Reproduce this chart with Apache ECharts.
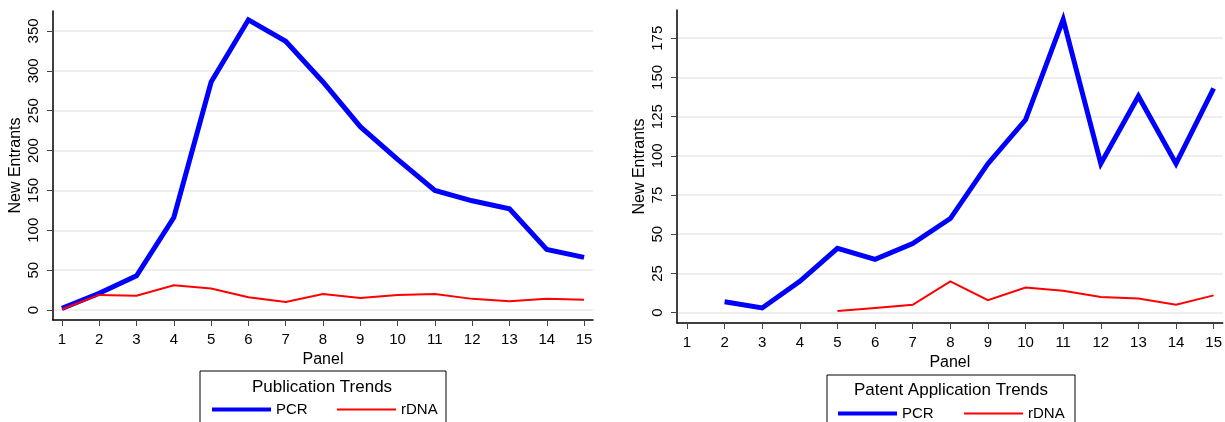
<!DOCTYPE html>
<html><head><meta charset="utf-8">
<script src="https://cdn.jsdelivr.net/npm/echarts@6/dist/echarts.min.js"></script>
<style>html,body{margin:0;padding:0;background:#fff}#c{width:1225px;height:422px}</style>
</head><body><div id="c"></div>
<script>
const panels = [1,2,3,4,5,6,7,8,9,10,11,12,13,14,15];
const pubPCR  = [2,21,43,116,286,364,337,286,230,189,150,137,127,76,66];
const pubRDNA = [1,19,18,31,27,16,10,20,15,19,20,14,11,14,13];
const patPCR  = [null,7,3,20,41,34,44,60,95,123,187,95,138,95,143];
const patRDNA = [null,null,null,null,1,3,5,20,8,16,14,10,9,5,11];
const pubTicks = [0,50,100,150,200,250,300,350];
const patTicks = [0,25,50,75,100,125,150,175];
const seriesNames = ['PCR','rDNA'];
const legendTitles = ['Publication Trends','Patent Application Trends'];

const FONT = '"Liberation Sans", Arial, sans-serif';
const pairs = (vals) => panels.map((p,i)=>[p, vals[i]]).filter(d => d[1] !== null);

function xAxis(gridIndex, min, max) {
  return {
    type: 'value', gridIndex, min, max,
    name: 'Panel', nameLocation: 'middle', nameGap: 20,
    nameTextStyle: {fontFamily: FONT, fontSize: 16, color: '#000'},
    axisLine: {show: true, onZero: false, lineStyle: {color: '#000', width: 1.5}},
    axisTick: {show: true, customValues: panels, length: 6, lineStyle: {color: '#444', width: 1}},
    axisLabel: {customValues: panels, margin: 12, fontFamily: FONT, fontSize: 15, color: '#000'},
    splitLine: {show: false}
  };
}
function yAxis(gridIndex, min, max, ticks) {
  return {
    type: 'value', gridIndex, min, max,
    name: 'New Entrants', nameLocation: 'middle', nameGap: 29,
    nameTextStyle: {fontFamily: FONT, fontSize: 16, color: '#000'},
    axisLine: {show: true, onZero: false, lineStyle: {color: '#000', width: 1.5}},
    axisTick: {show: true, customValues: ticks, length: 6, lineStyle: {color: '#444', width: 1}},
    axisLabel: {customValues: ticks, rotate: 90, margin: 12, fontFamily: FONT, fontSize: 15, color: '#000'},
    splitLine: {show: true, lineStyle: {color: '#e8e8e8', width: 1.5}}
  };
}
function line(name, xi, data, width, color) {
  return {
    name, type: 'line', xAxisIndex: xi, yAxisIndex: xi, data,
    symbol: 'none', animation: false,
    lineStyle: {width, color, join: 'miter', cap: 'butt'},
    itemStyle: {color}
  };
}
function legendItem(name, left, centerY, thick) {
  return {
    left, top: centerY - 11, itemWidth: 59, itemHeight: thick, icon: 'rect',
    data: [name], selectedMode: false,
    textStyle: {fontFamily: FONT, fontSize: 15, color: '#000'}
  };
}

const chart = echarts.init(document.getElementById('c'), null, {renderer: 'canvas'});
chart.setOption({
  animation: false,
  backgroundColor: '#fff',
  grid: [
    {left: 53, top: 11, right: 632, bottom: 102, containLabel: false},
    {left: 677, top: 10, right: 1, bottom: 99, containLabel: false}
  ],
  xAxis: [xAxis(0, 0.76, 15.24), xAxis(1, 0.735, 15.24)],
  yAxis: [yAxis(0, -12.5, 375, pubTicks), yAxis(1, -6.6, 193, patTicks)],
  legend: [
    legendItem(seriesNames[0], 207, 408, 4),
    legendItem(seriesNames[1], 332, 408, 2),
    legendItem(seriesNames[0], 833, 412, 4),
    legendItem(seriesNames[1], 959, 412, 2)
  ],
  graphic: [
    {type: 'rect', shape: {x: 200, y: 371, width: 246, height: 60}, style: {fill: 'none', stroke: '#000', lineWidth: 1}, z: 0},
    {type: 'text', x: 322, y: 387, style: {text: legendTitles[0], font: '17px ' + FONT, fill: '#000', textAlign: 'center', textVerticalAlign: 'middle'}},
    {type: 'rect', shape: {x: 827, y: 375, width: 248, height: 60}, style: {fill: 'none', stroke: '#000', lineWidth: 1}, z: 0},
    {type: 'text', x: 951, y: 390, style: {text: legendTitles[1], font: '17px ' + FONT, fill: '#000', textAlign: 'center', textVerticalAlign: 'middle'}}
  ],
  series: [
    line(seriesNames[0], 0, pairs(pubPCR), 5, '#0000ff'),
    line(seriesNames[1], 0, pairs(pubRDNA), 2, '#ff0000'),
    line(seriesNames[0], 1, pairs(patPCR), 5, '#0000ff'),
    line(seriesNames[1], 1, pairs(patRDNA), 2, '#ff0000')
  ]
});
</script>
</body></html>
